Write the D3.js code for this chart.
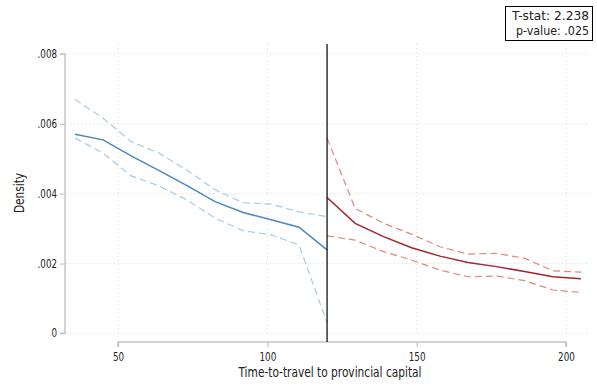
<!DOCTYPE html>
<html>
<head>
<meta charset="utf-8">
<script src="https://cdn.jsdelivr.net/npm/d3@7"></script>
<style>
  body { margin: 0; background: #fff; }
  text { font-family: "DejaVu Sans Condensed", "Liberation Sans Narrow", sans-serif; fill: #222; }
</style>
</head>
<body>
<script>
// Chart data
var leftX = [35.6, 45, 54.4, 63.8, 73.1, 82.5, 91.9, 101.3, 110.6, 120];
var leftFit = [0.00570, 0.00554, 0.00508, 0.00466, 0.00423, 0.00377, 0.00346, 0.00325, 0.00304, 0.00239];
var leftHi = [0.00670, 0.00616, 0.00549, 0.00516, 0.00467, 0.00411, 0.00374, 0.00370, 0.00348, 0.00334];
var leftLo = [0.00559, 0.00516, 0.00451, 0.00422, 0.00382, 0.00330, 0.00294, 0.00282, 0.00253, 0.00030];

var rightX = [120, 129.4, 138.9, 148.3, 157.8, 167.2, 176.7, 186.1, 195.6, 205];
var rightFit = [0.00389, 0.00315, 0.00277, 0.00245, 0.00221, 0.00203, 0.00191, 0.00177, 0.00162, 0.00156];
var rightHi = [0.00559, 0.00358, 0.00315, 0.00284, 0.00248, 0.00227, 0.00229, 0.00215, 0.00179, 0.00175];
var rightLo = [0.00279, 0.00267, 0.00234, 0.00210, 0.00181, 0.00162, 0.00164, 0.00151, 0.00124, 0.00117];

var cutoff = 120;
var xTicks = [50, 100, 150, 200];
var yTicks = [0, 0.002, 0.004, 0.006, 0.008];
var statLines = ["T-stat: 2.238", "p-value: .025"];

// Chart parameters
var svgWidth = 597;
var svgHeight = 386;
var plot = { left: 66, right: 590, top: 44, bottom: 333.3 };

var svg = d3.select("body")
            .append("svg")
            .attr("width", svgWidth)
            .attr("height", svgHeight);

var xScale = d3.scaleLinear().domain([50, 200]).range([118, 566]);
var yScale = d3.scaleLinear().domain([0, 0.008]).range([plot.bottom, 54]);

// narrow the glyphs a bit, the reference font is condensed
function labelWidth(s) {
  return s.split("").reduce((w, c) => w + (c === "." ? 2.6 : 5.6), 0);
}

// grid lines
svg.append("g").selectAll("line").data(yTicks).enter().append("line")
   .attr("x1", plot.left).attr("x2", plot.right)
   .attr("y1", d => yScale(d)).attr("y2", d => yScale(d))
   .attr("stroke", "#d8d8d8").attr("stroke-width", 1).attr("stroke-dasharray", "1,3");

svg.append("g").selectAll("line").data(xTicks).enter().append("line")
   .attr("x1", d => xScale(d)).attr("x2", d => xScale(d))
   .attr("y1", plot.top).attr("y2", plot.bottom)
   .attr("stroke", "#d8d8d8").attr("stroke-width", 1).attr("stroke-dasharray", "1,3");

// axes
var yFmt = d => d === 0 ? "0" : d3.format(".3f")(d).replace(/^0/, "");
var yAxis = d3.axisLeft(yScale).tickValues(yTicks).tickSize(5).tickPadding(3).tickFormat(yFmt);
var yG = svg.append("g").attr("transform", `translate(${plot.left - 1},0)`).call(yAxis);

var xAxis = d3.axisBottom(xScale).tickValues(xTicks).tickSize(5).tickPadding(6);
var xG = svg.append("g").attr("transform", "translate(0,342)").call(xAxis);

[xG, yG].forEach(function(g) {
  g.select(".domain").attr("stroke", "#c4c4c4").attr("stroke-width", 1.4);
  g.selectAll(".tick line").attr("stroke", "#c4c4c4").attr("stroke-width", 1.2);
  g.selectAll(".tick text")
   .attr("font-family", "DejaVu Sans Condensed, sans-serif")
   .attr("font-size", 11.5).attr("fill", "#222")
   .attr("textLength", function() { return labelWidth(this.textContent); })
   .attr("lengthAdjust", "spacingAndGlyphs");
});
xG.select(".domain").attr("d", `M${xScale(50)},5V0H${xScale(200)}V5`);
yG.select(".domain").attr("d", `M-5,${yScale(0.008)}H0V${plot.bottom}H-5`);

// series
function series(xs, ys) { return xs.map((x, i) => [x, ys[i]]); }
var line = d3.line().x(d => xScale(d[0])).y(d => yScale(d[1]));

var layers = [
  { xs: leftX, ys: leftHi, color: "#a6cbe6", dash: "7,4", w: 1.2 },
  { xs: leftX, ys: leftLo, color: "#a6cbe6", dash: "7,4", w: 1.2 },
  { xs: leftX, ys: leftFit, color: "#4a86c0", dash: null, w: 1.5 },
  { xs: rightX, ys: rightHi, color: "#dc8a7c", dash: "7,4", w: 1.2 },
  { xs: rightX, ys: rightLo, color: "#dc8a7c", dash: "7,4", w: 1.2 },
  { xs: rightX, ys: rightFit, color: "#a3262e", dash: null, w: 1.5 }
];

layers.forEach(function(l) {
  svg.append("path")
     .datum(series(l.xs, l.ys))
     .attr("d", line)
     .attr("fill", "none")
     .attr("stroke", l.color)
     .attr("stroke-width", l.w)
     .attr("stroke-dasharray", l.dash);
});

// cutoff line
svg.append("line")
   .attr("x1", xScale(cutoff)).attr("x2", xScale(cutoff))
   .attr("y1", plot.top).attr("y2", 342)
   .attr("stroke", "#000").attr("stroke-width", 1.2);

// axis titles
svg.append("text")
   .attr("x", 330).attr("y", 377)
   .attr("text-anchor", "middle")
   .attr("font-size", 13.5)
   .attr("textLength", 183).attr("lengthAdjust", "spacingAndGlyphs")
   .text("Time-to-travel to provincial capital");

svg.append("text")
   .attr("transform", "translate(24,193) rotate(-90)")
   .attr("text-anchor", "middle")
   .attr("font-size", 13.5)
   .attr("textLength", 40).attr("lengthAdjust", "spacingAndGlyphs")
   .text("Density");

// stats box
svg.append("rect")
   .attr("x", 505.5).attr("y", 6.5).attr("width", 87).attr("height", 34)
   .attr("fill", "#fff").attr("stroke", "#000").attr("stroke-width", 1);

svg.append("g").selectAll("text").data(statLines).enter().append("text")
   .attr("x", 589).attr("y", (d, i) => 20 + i * 15)
   .attr("text-anchor", "end")
   .attr("font-size", 13)
   .attr("textLength", (d, i) => i === 0 ? 77 : 73)
   .attr("lengthAdjust", "spacingAndGlyphs")
   .text(d => d);
</script>
</body>
</html>
